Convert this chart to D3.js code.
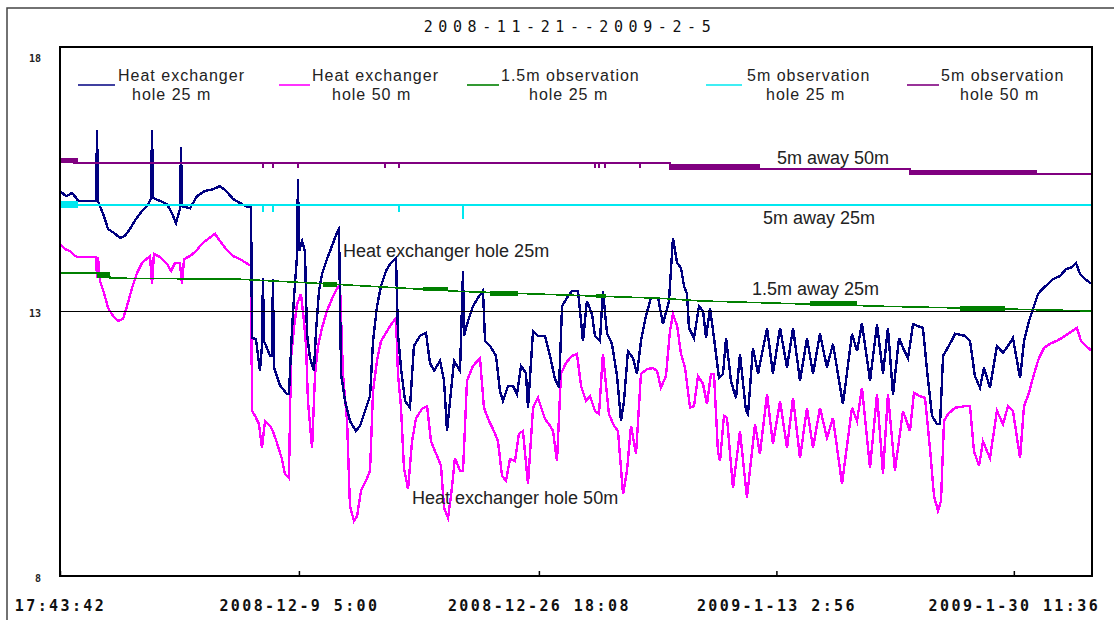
<!DOCTYPE html>
<html><head><meta charset="utf-8">
<script src="https://cdn.jsdelivr.net/npm/d3@7"></script>
<style>body{margin:0;background:#fff;}svg{display:block;}</style>
</head><body>
<svg id="chart" width="1114" height="620"></svg>
<script>
// ---------------- DATA ----------------
const titleText = "2008-11-21--2009-2-5";
const startTime = new Date(2008, 10, 21, 17, 43, 42);
const spanDays = 75.46;
const yTickValues = [8, 13, 18];
const xTickTimes = [new Date(2008,10,21,17,43,42), new Date(2008,11,9,5,0), new Date(2008,11,26,18,8), new Date(2009,0,13,2,56), new Date(2009,0,30,11,36)];
const xTickLabels = ["17:43:42", "2008-12-9 5:00", "2008-12-26 18:08", "2009-1-13 2:56", "2009-1-30 11:36"];
const legendLine1 = ["Heat exchanger", "Heat exchanger", "1.5m observation", "5m observation", "5m observation"];
const legendLine2 = ["hole 25 m", "hole 50 m", "hole 25 m", "hole 25 m", "hole 50 m"];
const annotationTexts = ["5m away 50m", "5m away 25m", "1.5m away 25m", "Heat exchanger hole 25m", "Heat exchanger hole 50m"];

// [elapsed days, temperature]
const hx25 = [[0.00,15.28],[0.44,15.18],[0.88,15.24],[1.24,15.13],[1.32,15.09],[2.63,15.09],[2.71,16.43],[2.78,15.09],[2.92,14.99],[3.22,14.80],[3.51,14.56],[4.02,14.47],[4.39,14.39],[4.75,14.43],[5.12,14.56],[5.56,14.75],[6.00,14.90],[6.36,14.99],[6.65,15.13],[6.73,16.43],[6.80,15.15],[7.31,15.09],[7.82,15.03],[8.19,14.86],[8.48,14.67],[8.77,14.94],[8.85,16.11],[8.92,14.99],[9.51,14.95],[10.02,15.18],[10.60,15.28],[11.19,15.31],[11.70,15.37],[12.14,15.28],[12.65,15.13],[13.16,15.05],[13.60,14.99],[13.97,14.97],[14.04,12.50],[14.33,12.48],[14.62,11.88],[14.77,12.35],[14.84,13.63],[14.92,12.44],[15.36,12.16],[15.50,12.16],[15.57,13.61],[15.65,11.94],[16.09,11.60],[16.60,11.44],[16.74,11.44],[16.96,12.63],[17.11,13.26],[17.33,14.05],[17.40,15.51],[17.48,14.14],[17.70,14.33],[17.91,14.14],[18.06,12.58],[18.28,12.12],[18.57,11.88],[18.72,12.63],[18.94,13.39],[19.16,13.71],[19.52,13.99],[19.89,14.24],[20.25,14.49],[20.40,14.56],[20.55,11.82],[20.84,11.31],[21.20,10.93],[21.64,10.74],[21.94,10.84],[22.30,11.12],[22.67,11.40],[22.89,12.44],[23.18,13.10],[23.47,13.48],[23.84,13.77],[24.20,13.92],[24.57,14.01],[24.71,12.58],[24.93,11.94],[25.23,11.31],[25.59,11.18],[25.88,12.35],[26.32,12.54],[26.76,12.60],[27.05,12.03],[27.35,11.88],[27.79,12.07],[28.08,11.69],[28.30,10.74],[28.52,11.31],[28.81,12.07],[29.25,11.88],[29.47,13.77],[29.54,12.54],[29.83,12.82],[30.20,13.10],[30.56,13.26],[30.93,13.39],[31.08,12.44],[31.44,12.35],[31.88,12.16],[32.17,11.50],[32.39,11.31],[32.76,11.59],[33.12,11.59],[33.42,11.44],[33.71,11.97],[34.07,11.84],[34.22,11.18],[34.59,12.63],[34.95,12.54],[35.46,12.54],[35.83,12.16],[36.19,11.73],[36.49,11.56],[36.71,13.10],[37.07,13.26],[37.44,13.39],[37.88,13.39],[38.24,12.44],[38.53,13.20],[38.90,12.95],[39.12,12.54],[39.48,12.44],[39.70,13.39],[40.00,12.58],[40.36,12.39],[40.73,11.78],[41.02,10.93],[41.24,11.31],[41.53,12.25],[41.90,12.12],[42.19,11.82],[42.48,12.44],[42.85,12.92],[43.21,13.26],[43.73,13.26],[44.09,12.76],[44.53,13.20],[44.82,14.39],[45.12,13.92],[45.41,13.82],[45.63,13.48],[45.85,13.33],[45.99,12.69],[46.36,12.50],[46.72,13.10],[47.02,13.01],[47.24,12.50],[47.53,13.07],[47.82,12.50],[48.19,11.74],[48.48,11.82],[48.70,12.50],[49.06,11.69],[49.43,11.36],[49.72,12.20],[50.16,11.12],[50.31,11.06],[50.67,12.31],[51.04,11.82],[51.70,12.69],[52.13,11.82],[52.65,12.69],[53.16,11.94],[53.60,12.69],[54.11,11.69],[54.62,12.50],[55.06,11.82],[55.57,12.58],[56.08,11.94],[56.52,12.39],[57.25,11.25],[57.91,12.58],[58.28,12.25],[58.64,12.78],[59.23,11.69],[59.74,12.76],[60.18,11.82],[60.54,12.69],[60.91,11.42],[61.35,12.50],[61.64,12.31],[62.01,12.12],[62.37,12.76],[63.10,12.69],[63.40,11.88],[63.76,11.03],[64.13,10.87],[64.35,10.87],[64.57,12.16],[65.08,12.39],[65.45,12.58],[66.18,12.54],[66.54,12.44],[66.90,11.78],[67.27,11.56],[67.56,11.94],[68.00,11.56],[68.51,12.35],[68.95,12.22],[69.32,12.35],[69.68,12.50],[70.20,11.74],[70.49,12.44],[70.85,12.82],[71.22,13.10],[71.51,13.33],[71.88,13.44],[72.24,13.52],[72.61,13.61],[73.12,13.67],[73.56,13.80],[74.00,13.84],[74.29,13.92],[74.58,13.71],[74.95,13.61],[75.46,13.52]];

const hx50 = [[0.00,14.28],[0.37,14.18],[0.73,14.14],[1.10,14.05],[1.32,14.03],[2.63,14.03],[2.71,13.63],[2.78,14.03],[2.92,13.58],[3.22,13.35],[3.51,13.07],[3.88,12.92],[4.24,12.82],[4.61,12.86],[4.90,13.10],[5.26,13.44],[5.63,13.73],[6.00,13.92],[6.58,14.05],[6.73,13.52],[6.87,14.09],[7.31,14.03],[7.82,13.90],[8.12,13.77],[8.41,13.92],[8.77,13.92],[8.92,13.52],[9.07,13.99],[9.51,14.05],[9.94,14.14],[10.38,14.28],[10.82,14.37],[11.33,14.47],[11.70,14.33],[12.14,14.18],[12.65,14.05],[13.16,13.99],[13.60,13.92],[13.97,13.86],[14.04,11.12],[14.26,11.03],[14.55,10.87],[14.77,10.42],[14.99,10.93],[15.36,10.84],[15.57,10.74],[15.87,10.51],[16.23,10.21],[16.45,9.93],[16.74,9.85],[16.89,12.12],[17.11,12.69],[17.33,13.14],[17.62,13.33],[17.84,12.82],[17.99,12.35],[18.13,11.31],[18.43,10.42],[18.65,11.82],[18.87,12.35],[19.16,12.69],[19.52,13.01],[19.89,13.24],[20.25,13.43],[20.47,13.52],[20.69,11.82],[20.99,10.93],[21.20,9.32],[21.50,9.04],[21.72,9.13],[22.01,9.61],[22.37,9.80],[22.67,9.99],[22.89,11.50],[23.18,12.07],[23.47,12.44],[23.91,12.63],[24.28,12.78],[24.57,12.88],[24.71,11.82],[24.93,11.21],[25.15,10.04],[25.45,9.64],[25.74,10.54],[26.03,10.98],[26.47,11.16],[26.84,11.21],[27.13,10.54],[27.57,10.27],[27.86,10.08],[28.08,9.29],[28.37,9.10],[28.59,9.51],[28.88,10.23],[29.25,9.99],[29.47,9.99],[29.76,11.69],[30.20,11.97],[30.71,12.12],[31.00,11.18],[31.37,10.93],[31.73,10.74],[32.03,10.54],[32.32,9.89],[32.61,9.80],[32.90,10.21],[33.27,10.17],[33.56,10.69],[33.85,10.74],[34.22,9.74],[34.59,11.18],[34.95,11.37],[35.46,10.97],[35.83,10.84],[36.05,10.74],[36.34,10.17],[36.63,11.82],[37.00,12.03],[37.44,12.16],[37.80,12.20],[38.10,11.59],[38.46,11.31],[38.75,11.40],[39.12,11.12],[39.41,11.06],[39.70,12.20],[40.14,11.06],[40.51,10.84],[40.80,10.74],[41.17,9.55],[41.46,9.99],[41.75,10.84],[42.12,10.31],[42.48,11.82],[42.92,11.91],[43.36,11.93],[43.65,11.88],[43.94,11.56],[44.31,11.78],[44.60,12.63],[44.82,12.95],[45.12,12.73],[45.41,12.20],[45.70,11.94],[46.07,11.18],[46.36,11.21],[46.65,11.78],[47.02,11.63],[47.31,11.25],[47.60,11.82],[47.82,11.82],[48.11,10.36],[48.26,10.17],[48.55,11.03],[48.77,10.99],[49.21,9.66],[49.72,10.74],[50.23,9.48],[50.82,10.87],[51.18,10.31],[51.70,11.44],[52.13,10.49],[52.65,11.31],[53.16,10.42],[53.60,11.37],[54.11,10.23],[54.62,11.18],[55.06,10.42],[55.57,11.18],[56.08,10.61],[56.52,10.99],[57.18,9.74],[57.91,11.18],[58.28,10.93],[58.64,11.56],[59.23,10.04],[59.74,11.44],[60.18,9.93],[60.54,11.44],[61.05,9.99],[61.64,11.12],[62.15,10.74],[62.44,11.46],[62.88,11.40],[63.25,11.37],[63.61,10.42],[63.91,9.51],[64.20,9.23],[64.42,9.42],[64.64,10.93],[64.93,11.06],[65.45,11.18],[66.18,11.21],[66.54,11.21],[66.83,10.36],[67.20,10.08],[67.49,10.54],[68.00,10.23],[68.51,11.12],[68.95,10.87],[69.32,11.21],[69.68,11.12],[70.20,10.23],[70.49,11.21],[70.85,11.46],[71.22,11.82],[71.58,12.12],[71.95,12.31],[72.39,12.39],[72.83,12.44],[73.27,12.50],[73.71,12.58],[74.00,12.63],[74.36,12.69],[74.66,12.44],[75.02,12.35],[75.46,12.25]];

const obs15 = [[0.00,13.73],[3.60,13.73],[3.66,13.63],[13.16,13.61],[19.74,13.52],[29.25,13.38],[43.87,13.25],[46.80,13.20],[59.96,13.10],[75.46,13.01]];
// noisy (flickering) stretches: [startDay, endDay, low, high]
const obs15Bands = [[2.71,3.66,13.63,13.73],[19.23,20.25,13.47,13.56],[26.54,28.37,13.38,13.47],[31.44,33.49,13.30,13.38],[39.19,39.92,13.25,13.33],[54.84,58.28,13.10,13.20],[65.82,69.10,13.01,13.10]];

const obs5m25 = [[0.00,15.02],[75.46,15.02]];
const obs5m25Bands = [[0.00,1.32,14.96,15.08]];
const obs5m25Dips = [[14.84,14.88],[15.57,14.88],[24.79,14.88],[29.47,14.75]];

const obs5m50 = [[0.00,15.86],[1.32,15.80],[44.60,15.80],[44.61,15.69],[62.15,15.69],[62.16,15.59],[75.46,15.59]];
const obs5m50Bands = [[0.00,1.32,15.80,15.91],[44.60,51.18,15.69,15.79],[62.15,71.44,15.59,15.68]];
const obs5m50Dips = [[14.84,15.71],[15.57,15.71],[17.40,15.71],[23.77,15.71],[24.79,15.71],[39.12,15.71],[39.41,15.71],[39.85,15.71],[42.41,15.71]];

// ---------------- STYLE / LAYOUT ----------------
const colors = ["#000080", "#ff00ff", "#008000", "#00e8f0", "#800080"];
const M = {left: 60, right: 1092, top: 47, bottom: 576};
const legendLayout = [
  {lx1: 78, lx2: 115, t1: 118, t2: 132},
  {lx1: 279, lx2: 310, t1: 312, t2: 332},
  {lx1: 467, lx2: 499, t1: 501, t2: 529},
  {lx1: 706, lx2: 742, t1: 747, t2: 766},
  {lx1: 907, lx2: 939, t1: 941, t2: 960}
];
const annotationLayout = [[777,158],[763,218],[752,289],[343,251],[412,498]];

const svg = d3.select("#chart");
const toDate = d => new Date(+startTime + d * 864e5);
const x = d3.scaleTime().domain([startTime, toDate(spanDays)]).range([M.left, M.right]);
const y = d3.scaleLinear().domain([8, 18]).range([M.bottom, M.top]);

// outer frame
svg.append("path").attr("d", "M7,620 L7,8 L1114,8").attr("fill", "none").attr("stroke", "#444").attr("stroke-width", 1.5);

// title
svg.append("text").attr("x", 570).attr("y", 27).attr("dy", "0.36em")
  .attr("text-anchor", "middle").attr("font-family", "DejaVu Sans Mono, monospace")
  .attr("font-size", 15).attr("letter-spacing", 5.6).attr("fill", "#111").text(titleText);

const lineGen = d3.line().x(d => x(toDate(d[0]))).y(d => y(d[1]));

function drawSeries(data, color, w) {
  svg.append("path").datum(data).attr("d", lineGen).attr("fill", "none")
    .attr("stroke", color).attr("stroke-width", w).attr("stroke-linejoin", "miter")
    .attr("shape-rendering", "crispEdges");
}
function drawBands(bands, color) {
  svg.selectAll(null).data(bands).enter().append("rect")
    .attr("x", d => x(toDate(d[0]))).attr("width", d => x(toDate(d[1])) - x(toDate(d[0])))
    .attr("y", d => y(d[3])).attr("height", d => y(d[2]) - y(d[3])).attr("fill", color)
    .attr("shape-rendering", "crispEdges");
}
function drawDips(dips, base, color) {
  svg.selectAll(null).data(dips).enter().append("line")
    .attr("x1", d => x(toDate(d[0]))).attr("x2", d => x(toDate(d[0])))
    .attr("y1", d => y(base(d[0]))).attr("y2", d => y(d[1]))
    .attr("stroke", color).attr("stroke-width", 1.3).attr("shape-rendering", "crispEdges");
}

// main series
drawSeries(hx50, colors[1], 2.4);
drawSeries(hx25, colors[0], 2.4);

// reference 13 line
svg.append("line").attr("x1", M.left).attr("x2", M.right).attr("y1", y(13)).attr("y2", y(13))
  .attr("stroke", "#000").attr("stroke-width", 1.5).attr("shape-rendering", "crispEdges");

// observation holes
drawSeries(obs15, colors[2], 1.6);
drawBands(obs15Bands, colors[2]);
drawSeries(obs5m25, colors[3], 2);
drawBands(obs5m25Bands, colors[3]);
drawDips(obs5m25Dips, () => 15.02, colors[3]);
drawSeries(obs5m50, colors[4], 2);
drawBands(obs5m50Bands, colors[4]);
drawDips(obs5m50Dips, () => 15.80, colors[4]);

// plot frame
svg.append("rect").attr("x", M.left).attr("y", y(18)).attr("width", M.right - M.left)
  .attr("height", y(8) - y(18)).attr("fill", "none").attr("stroke", "#000").attr("stroke-width", 2);

// x axis
const xAxis = d3.axisBottom(x).tickValues(xTickTimes).tickSizeInner(-5).tickSizeOuter(0)
  .tickFormat((d, i) => xTickLabels[i]);
const gx = svg.append("g").attr("transform", `translate(0,${y(8)})`).call(xAxis);
gx.select(".domain").remove();
gx.selectAll(".tick line").attr("stroke", "#000").attr("stroke-width", 1.5);
gx.selectAll(".tick text").attr("y", 30).attr("dy", "0.36em")
  .attr("font-family", "DejaVu Sans Mono, monospace").attr("font-weight", "bold")
  .attr("font-size", 15).attr("letter-spacing", 2.4).attr("fill", "#111");

// y labels
svg.selectAll(null).data(yTickValues).enter().append("text")
  .attr("x", 41).attr("y", d => Math.max(y(d) + 2, 58)).attr("dy", "0.36em")
  .attr("text-anchor", "end").attr("font-family", "DejaVu Sans Mono, monospace")
  .attr("font-weight", "bold").attr("font-size", 10).attr("fill", "#222").text(d => d);

// legend
const lg = svg.append("g").attr("font-family", "Liberation Sans, Arial, sans-serif").attr("font-size", 16).attr("letter-spacing", 1).attr("fill", "#222");
legendLayout.forEach((L, i) => {
  lg.append("line").attr("x1", L.lx1).attr("x2", L.lx2).attr("y1", 85).attr("y2", 85)
    .attr("stroke", colors[i]).attr("stroke-width", 1.6);
  lg.append("text").attr("x", L.t1).attr("y", 75).attr("dy", "0.36em").text(legendLine1[i]);
  lg.append("text").attr("x", L.t2).attr("y", 94).attr("dy", "0.36em").text(legendLine2[i]);
});

// annotations
svg.selectAll(null).data(annotationTexts).enter().append("text")
  .attr("x", (d, i) => annotationLayout[i][0]).attr("y", (d, i) => annotationLayout[i][1])
  .attr("dy", "0.36em").attr("font-family", "Liberation Sans, Arial, sans-serif")
  .attr("font-size", 18).attr("fill", "#222").text(d => d);
</script>
</body></html>
